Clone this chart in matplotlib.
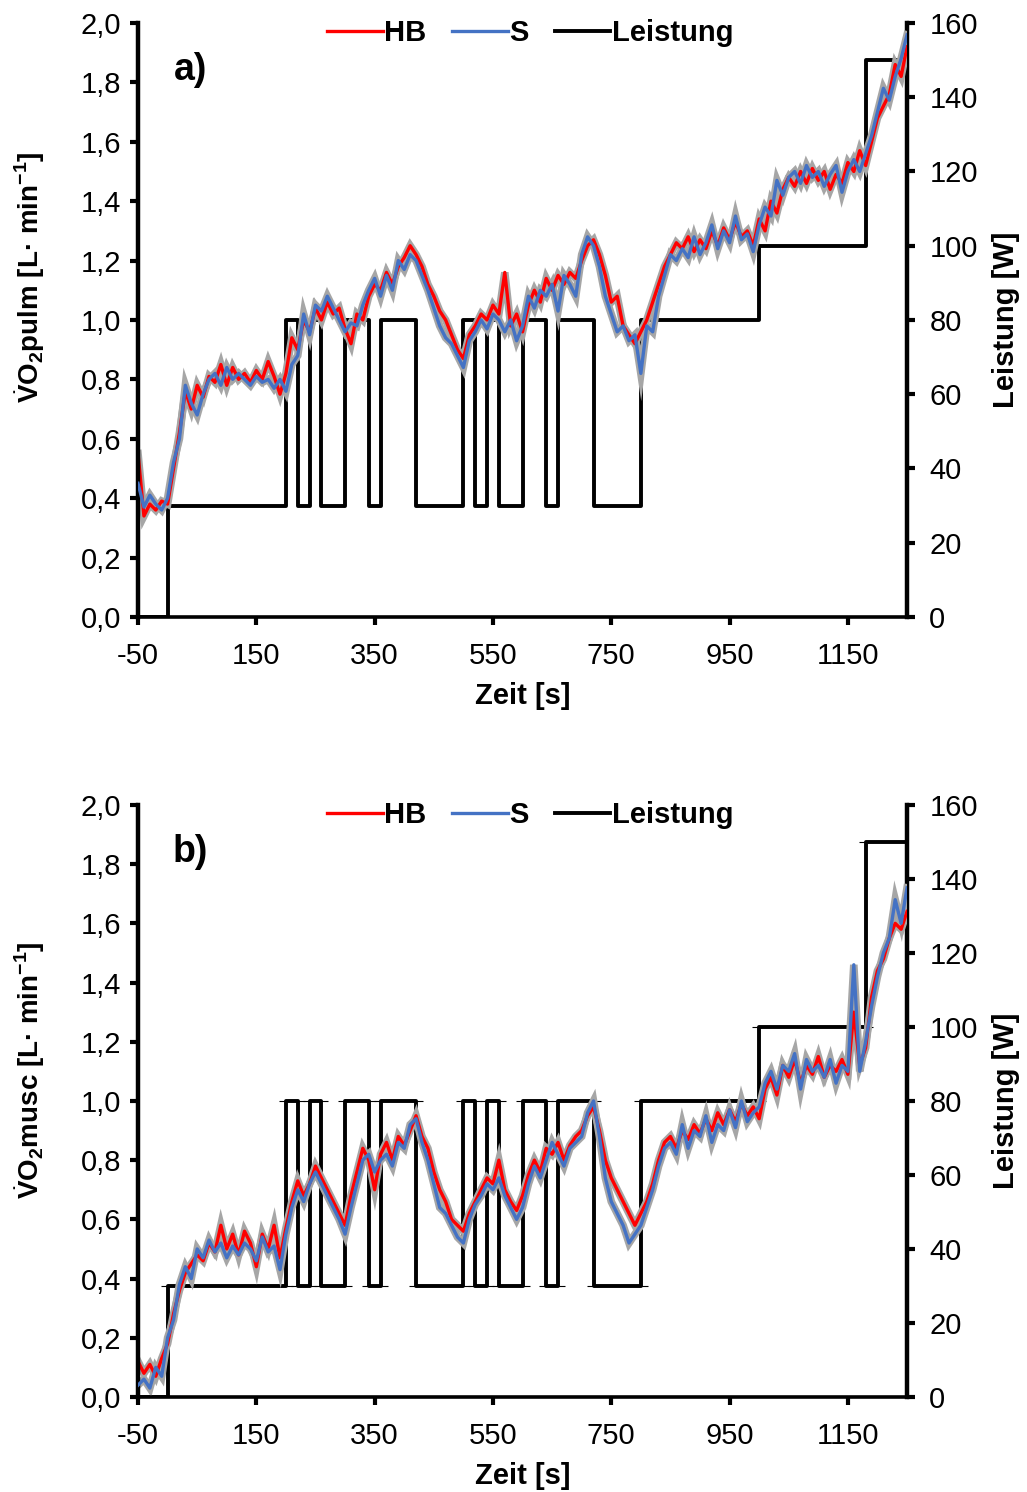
import numpy as np
import matplotlib.pyplot as plt

plt.rcParams['font.family'] = ['Liberation Sans', 'DejaVu Sans']
plt.rcParams['mathtext.fontset'] = 'custom'
plt.rcParams['mathtext.rm'] = 'Liberation Sans'
plt.rcParams['mathtext.bf'] = 'Liberation Sans:bold'

# time axis, 10 s steps
zeit = np.arange(-50, 1251, 10)

# panel a: pulmonary VO2 [L/min]
pulm_hb = [0.55, 0.34, 0.38, 0.36, 0.39, 0.38, 0.50, 0.62, 0.76, 0.70,
           0.78, 0.74, 0.81, 0.79, 0.85, 0.78, 0.84, 0.80, 0.82, 0.79,
           0.83, 0.80, 0.86, 0.81, 0.75, 0.82, 0.94, 0.90, 1.00, 0.96,
           1.04, 1.00, 1.06, 1.02, 1.04, 0.97, 0.92, 1.02, 1.00, 1.08,
           1.12, 1.10, 1.16, 1.12, 1.18, 1.21, 1.25, 1.22, 1.18, 1.12,
           1.08, 1.03, 1.00, 0.95, 0.90, 0.87, 0.95, 0.98, 1.02, 1.00,
           1.05, 1.02, 1.16, 0.98, 1.02, 0.96, 1.05, 1.10, 1.06, 1.14,
           1.10, 1.15, 1.12, 1.16, 1.14, 1.20, 1.25, 1.27, 1.22, 1.15,
           1.06, 1.08, 0.98, 0.95, 0.92, 0.96, 1.00, 1.06, 1.12, 1.18,
           1.22, 1.26, 1.24, 1.28, 1.23, 1.27, 1.24, 1.30, 1.25, 1.31,
           1.27, 1.33, 1.28, 1.30, 1.25, 1.34, 1.30, 1.40, 1.36, 1.44,
           1.48, 1.45, 1.50, 1.46, 1.51, 1.47, 1.50, 1.44, 1.49, 1.46,
           1.53, 1.50, 1.57, 1.52, 1.60, 1.68, 1.72, 1.76, 1.86, 1.82,
           1.92]
pulm_s = [0.45, 0.37, 0.41, 0.38, 0.36, 0.40, 0.52, 0.60, 0.78, 0.72,
          0.68, 0.75, 0.80, 0.82, 0.78, 0.84, 0.80, 0.82, 0.80, 0.78,
          0.81, 0.79, 0.80, 0.77, 0.80, 0.76, 0.85, 0.88, 1.02, 0.95,
          1.05, 1.03, 1.08, 1.04, 1.00, 0.96, 0.99, 0.98, 1.05, 1.10,
          1.14, 1.08, 1.15, 1.10, 1.20, 1.17, 1.22, 1.20, 1.15, 1.10,
          1.04, 0.98, 0.94, 0.92, 0.88, 0.84, 0.93, 0.96, 1.00, 0.97,
          1.02, 1.00, 0.96, 1.00, 0.93, 0.98, 1.08, 1.04, 1.10, 1.08,
          1.12, 1.03, 1.15, 1.12, 1.08, 1.22, 1.28, 1.25, 1.18, 1.08,
          1.02, 0.96, 0.98, 0.93, 0.95, 0.82, 0.98, 0.96, 1.08, 1.15,
          1.22, 1.20, 1.24, 1.21, 1.28, 1.22, 1.26, 1.32, 1.24, 1.30,
          1.26, 1.35, 1.27, 1.29, 1.23, 1.32, 1.38, 1.35, 1.47, 1.42,
          1.48, 1.50, 1.46, 1.52, 1.48, 1.50, 1.45, 1.49, 1.52, 1.43,
          1.50, 1.54, 1.50, 1.56, 1.62, 1.70, 1.78, 1.74, 1.82, 1.88,
          1.96]

# panel b: muscular VO2 [L/min]
musc_hb = [0.12, 0.08, 0.11, 0.07, 0.13, 0.18, 0.28, 0.36, 0.42, 0.45,
           0.48, 0.46, 0.52, 0.49, 0.58, 0.50, 0.55, 0.48, 0.56, 0.52,
           0.44, 0.55, 0.50, 0.58, 0.47, 0.57, 0.66, 0.73, 0.68, 0.72,
           0.78, 0.74, 0.70, 0.66, 0.62, 0.58, 0.68, 0.76, 0.84, 0.80,
           0.70, 0.82, 0.86, 0.80, 0.88, 0.85, 0.90, 0.95, 0.88, 0.84,
           0.76, 0.70, 0.66, 0.60, 0.58, 0.56, 0.62, 0.66, 0.70, 0.74,
           0.72, 0.80, 0.70, 0.66, 0.63, 0.68, 0.75, 0.80, 0.76, 0.84,
           0.82, 0.86, 0.80, 0.85, 0.88, 0.90, 0.95, 0.98, 0.90, 0.80,
           0.74, 0.70, 0.66, 0.62, 0.58, 0.62, 0.66, 0.72, 0.80, 0.86,
           0.88, 0.84, 0.90, 0.87, 0.92, 0.89, 0.94, 0.90, 0.96, 0.92,
           0.97, 0.93, 0.99, 0.95, 0.98, 0.94, 1.04, 1.08, 1.02, 1.12,
           1.08, 1.14, 1.06, 1.12, 1.09, 1.15, 1.08, 1.12, 1.10, 1.14,
           1.09, 1.30, 1.12, 1.18, 1.35, 1.44, 1.48, 1.55, 1.60, 1.58,
           1.64]
musc_s = [0.04, 0.06, 0.03, 0.10, 0.07, 0.20, 0.26, 0.38, 0.44, 0.40,
          0.50, 0.47, 0.53, 0.49, 0.52, 0.47, 0.51, 0.48, 0.52, 0.50,
          0.46, 0.54, 0.49, 0.51, 0.43, 0.55, 0.64, 0.70, 0.66, 0.72,
          0.76, 0.72, 0.68, 0.64, 0.60, 0.55, 0.64, 0.72, 0.80, 0.82,
          0.76, 0.80, 0.82, 0.78, 0.86, 0.84, 0.92, 0.94, 0.86, 0.80,
          0.72, 0.64, 0.62, 0.58, 0.54, 0.52, 0.60, 0.65, 0.68, 0.72,
          0.70, 0.74, 0.68, 0.64, 0.60, 0.64, 0.72, 0.78, 0.74, 0.80,
          0.86, 0.82, 0.78, 0.84, 0.86, 0.88, 0.96, 1.00, 0.88, 0.74,
          0.66, 0.62, 0.58, 0.52, 0.55, 0.58, 0.64, 0.70, 0.78, 0.84,
          0.86, 0.82, 0.92, 0.84, 0.90, 0.88, 0.95, 0.86, 0.92, 0.90,
          0.97, 0.91, 1.00, 0.93, 0.96, 0.98, 1.06, 1.10, 1.04, 1.12,
          1.10, 1.16, 1.04, 1.14, 1.10, 1.12, 1.08, 1.14, 1.06, 1.12,
          1.10, 1.46, 1.10, 1.20, 1.32, 1.42, 1.50, 1.55, 1.68, 1.60,
          1.72]

# work rate profile (step starts)
power_t = [-50, 0, 200, 220, 240, 260, 300, 340, 360, 420, 500, 520,
           540, 560, 600, 640, 660, 720, 800, 1000, 1180, 1250]
power_w = [0, 30, 80, 30, 80, 30, 80, 30, 80, 30, 80, 30,
           80, 30, 80, 30, 80, 30, 80, 100, 150, 150]

xticks = [-50, 150, 350, 550, 750, 950, 1150]
yticks = np.arange(0, 2.01, 0.2)
wticks = np.arange(0, 161, 20)

RED = '#ff0000'
BLUE = '#4472c4'
GRAY = '#a6a6a6'
FS = 21

fig = plt.figure(figsize=(10.27, 14.92), dpi=100)

panels = [
    ([0.1344, 0.5865, 0.7488, 0.3981], pulm_hb, pulm_s, 'pulm', 'a)', False, 0.572),
    ([0.1344, 0.0637, 0.7488, 0.3968], musc_hb, musc_s, 'musc', 'b)', True, 0.552),
]

for rect, hb, s, name, tag, caps, ylab_y in panels:
    ax = fig.add_axes(rect)
    ax2 = ax.twinx()
    ax.set_zorder(ax2.get_zorder() + 1)
    ax.patch.set_visible(False)

    ax.plot(zeit, hb, color=GRAY, lw=5.5, solid_joinstyle='miter', zorder=1)
    ax.plot(zeit, s, color=GRAY, lw=5.5, solid_joinstyle='miter', zorder=1)
    l1, = ax.plot(zeit, hb, color=RED, lw=2.4, zorder=2, label='HB')
    l2, = ax.plot(zeit, s, color=BLUE, lw=2.4, zorder=3, label='S')

    l3, = ax2.plot(power_t, power_w, color='black', lw=2.8,
                   drawstyle='steps-post', label='Leistung')
    if caps:
        ax2.plot(power_t[1:-1], power_w[1:-1], ls='none', marker='_',
                 ms=10, mew=0.8, color='black')
        ax2.plot(power_t[1:-1], power_w[:-2], ls='none', marker='_',
                 ms=10, mew=0.8, color='black')

    ax.set_xlim(-50, 1250)
    ax.set_ylim(0, 2.0)
    ax2.set_ylim(0, 160)
    ax.set_xticks(xticks)
    ax.set_xticklabels([str(v) for v in xticks])
    ax.set_yticks(yticks)
    ax.set_yticklabels([f'{v:.1f}'.replace('.', ',') for v in yticks])
    ax2.set_yticks(wticks)
    ax2.set_yticklabels([str(v) for v in wticks])

    for a in (ax, ax2):
        a.spines['top'].set_visible(False)
        a.spines['left'].set_linewidth(3.2)
        a.spines['right'].set_linewidth(3.2)
        a.spines['bottom'].set_linewidth(2.6)
    ax.spines['right'].set_visible(False)
    ax2.spines['left'].set_visible(False)
    ax2.spines['bottom'].set_visible(False)

    ax.tick_params(axis='y', direction='out', length=6, width=3, labelsize=FS, pad=6)
    ax.tick_params(axis='x', direction='out', length=6, width=3, labelsize=FS, pad=12)
    ax2.tick_params(axis='y', direction='out', length=6, width=3, labelsize=FS, pad=10)

    ax.set_xlabel('Zeit [s]', fontsize=FS, fontweight='bold', labelpad=9)
    ax.set_ylabel(r'$\dot{\mathbf{V}}\mathbf{O}_\mathbf{2}$' + name +
                  r' [L· min$^{\mathbf{-1}}$]',
                  fontsize=20, fontweight='bold')
    ax.yaxis.set_label_coords(-0.118, ylab_y)
    ax2.set_ylabel('Leistung [W]', fontsize=FS, fontweight='bold',
                   rotation=90, labelpad=10)

    ax.text(0.068, 0.92, tag, transform=ax.transAxes, fontsize=27,
            fontweight='bold', ha='center', va='center')

    ax.legend([l1, l2, l3], ['HB', 'S', 'Leistung'], loc='center',
              bbox_to_anchor=(0.51, 0.983), ncol=3, frameon=False,
              handlelength=1.9, handletextpad=0.05, columnspacing=0.9,
              prop={'size': FS, 'weight': 'bold'})

fig.savefig('out.png', dpi=100)
